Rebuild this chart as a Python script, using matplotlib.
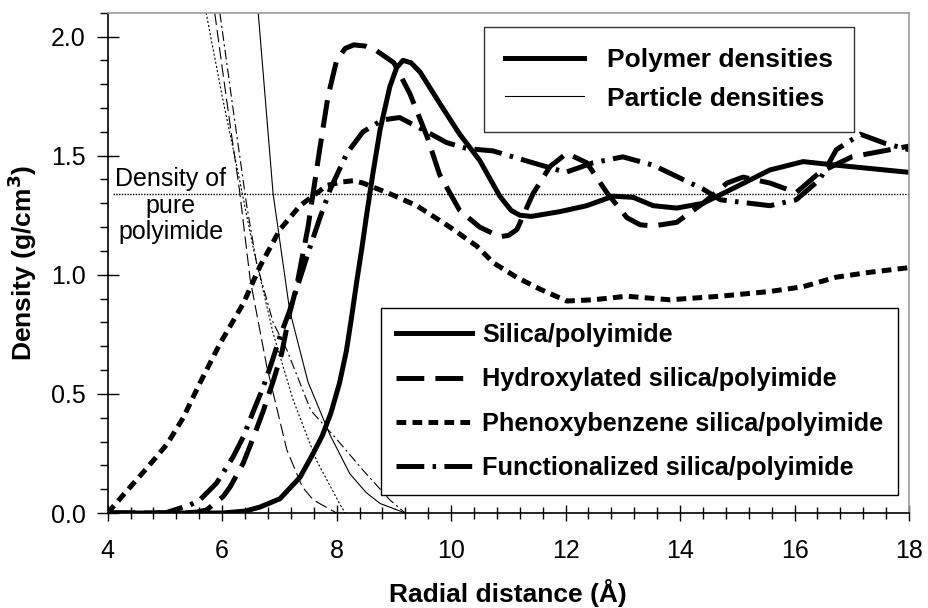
import numpy as np
import matplotlib
matplotlib.use('Agg')
import matplotlib.pyplot as plt
from matplotlib.ticker import MultipleLocator, FormatStrFormatter
from matplotlib.lines import Line2D

plt.rcParams['font.family'] = ['Liberation Sans', 'DejaVu Sans']
plt.rcParams['lines.scale_dashes'] = False

# polymer densities (thick lines)
silica_x = [4.0, 6.0, 6.4, 6.66, 7.01, 7.36, 7.59, 7.75, 7.9, 8.05, 8.17, 8.26, 8.35, 8.44, 8.52,
            8.63, 8.76, 8.93, 9.05, 9.16, 9.3, 9.46, 9.8, 10.15, 10.5, 10.85, 11.05, 11.2, 11.4,
            11.9, 12.37, 12.83, 13.18, 13.53, 13.94, 14.4, 14.99, 15.57, 16.15, 16.73, 18.0]
silica_y = [0.0, 0.0, 0.008, 0.025, 0.06, 0.15, 0.25, 0.325, 0.42, 0.545, 0.68, 0.82, 0.97, 1.11, 1.245,
            1.42, 1.61, 1.79, 1.87, 1.90, 1.89, 1.85, 1.72, 1.59, 1.48, 1.33, 1.27, 1.25, 1.245,
            1.265, 1.29, 1.33, 1.325, 1.29, 1.28, 1.30, 1.37, 1.44, 1.475, 1.46, 1.43]

hydrox_x = [4.0, 5.3, 5.56, 5.73, 6.02, 6.14, 6.37, 6.55, 6.72, 6.9, 7.04, 7.18, 7.3, 7.5, 7.7,
            7.85, 8.0, 8.15, 8.3, 8.5, 8.7, 9.0, 9.28, 9.58, 9.8, 10.15, 10.5, 10.85, 11.0,
            11.15, 11.43, 11.73, 12.02, 12.37, 12.72, 13.07, 13.3, 13.53, 13.94, 14.4, 14.82,
            15.1, 15.57, 16.03, 16.44, 17.0, 18.0]
hydrox_y = [0.0, 0.0, 0.004, 0.013, 0.07, 0.11, 0.21, 0.32, 0.43, 0.56, 0.67, 0.84, 0.95, 1.2, 1.52,
            1.75, 1.90, 1.95, 1.965, 1.96, 1.94, 1.89, 1.76, 1.58, 1.42, 1.27, 1.20, 1.16, 1.165,
            1.19, 1.34, 1.455, 1.51, 1.47, 1.345, 1.24, 1.21, 1.205, 1.22, 1.30, 1.385,
            1.41, 1.385, 1.345, 1.43, 1.495, 1.54]

phenoxy_x = [4.0, 4.27, 4.69, 5.04, 5.32, 5.61, 5.96, 6.37, 6.66, 7.01, 7.36, 7.83, 8.11, 8.3,
             8.46, 8.93, 9.4, 9.98, 10.45, 10.74, 11.14, 11.55, 12.02, 12.48, 13.07, 13.82,
             14.7, 15.57, 16.15, 16.73, 17.3, 18.0]
phenoxy_y = [0.0, 0.075, 0.19, 0.29, 0.40, 0.545, 0.71, 0.88, 1.035, 1.19, 1.29, 1.375, 1.39, 1.395,
             1.385, 1.34, 1.29, 1.20, 1.12, 1.05, 0.99, 0.94, 0.89, 0.895, 0.91, 0.895,
             0.91, 0.93, 0.95, 0.99, 1.01, 1.03]

funct_x = [4.0, 5.0, 5.44, 5.61, 5.9, 6.19, 6.37, 6.55, 6.72, 6.87, 7.01, 7.18, 7.54, 7.71, 7.89,
           8.18, 8.46, 8.8, 9.1, 9.5, 9.92, 10.27, 10.73, 11.43, 12.0, 12.48, 13.0, 13.53,
           14.4, 14.7, 15.57, 16.03, 16.44, 16.73, 17.15, 17.6, 18.0]
funct_y = [0.0, 0.0, 0.034, 0.055, 0.125, 0.235, 0.32, 0.43, 0.53, 0.635, 0.74, 0.85, 1.12, 1.24, 1.36,
           1.51, 1.60, 1.65, 1.66, 1.61, 1.555, 1.53, 1.52, 1.47, 1.43, 1.47, 1.495, 1.46,
           1.36, 1.315, 1.29, 1.315, 1.40, 1.525, 1.59, 1.55, 1.525]

# particle densities (thin lines)
p_silica_x = [6.63, 6.89, 7.18, 7.5, 7.88, 8.23, 8.52, 8.76, 9.2]
p_silica_y = [2.1, 1.34, 0.85, 0.55, 0.33, 0.165, 0.085, 0.04, 0.0]

p_hydrox_x = [5.87, 6.0, 6.15, 6.3, 6.49, 6.78, 7.13, 7.4, 7.59, 8.0]
p_hydrox_y = [2.1, 1.87, 1.61, 1.36, 0.98, 0.615, 0.265, 0.11, 0.055, 0.0]

p_phenoxy_x = [5.72, 6.0, 6.26, 6.55, 6.89, 7.24, 7.65, 8.05, 8.15]
p_phenoxy_y = [2.1, 1.75, 1.45, 1.105, 0.755, 0.475, 0.22, 0.04, 0.0]

p_funct_x = [5.96, 6.2, 6.43, 6.6, 6.89, 7.13, 7.55, 8.0, 8.46, 8.93, 9.2]
p_funct_y = [2.1, 1.68, 1.29, 1.05, 0.80, 0.685, 0.43, 0.31, 0.18, 0.055, 0.0]

pure_polyimide = 1.34

labels = ['Silica/polyimide', 'Hydroxylated silica/polyimide',
          'Phenoxybenzene silica/polyimide', 'Functionalized silica/polyimide']

thick, thin = 3.6, 0.8
thick_styles = ['-', (0, (20, 8)), (0, (7, 4.5)), (0, (20, 6, 2.5, 6))]
thin_styles = ['-', (0, (9, 3.5)), (0, (1.5, 1.5)), (0, (7, 2.5, 1.5, 2.5))]

fig = plt.figure(figsize=(9.29, 6.08), dpi=100)
ax = fig.add_axes([0.1159, 0.1562, 0.8626, 0.8229])

polymer = [(silica_x, silica_y), (hydrox_x, hydrox_y), (phenoxy_x, phenoxy_y), (funct_x, funct_y)]
particle = [(p_silica_x, p_silica_y), (p_hydrox_x, p_hydrox_y), (p_phenoxy_x, p_phenoxy_y),
            (p_funct_x, p_funct_y)]

for (xs, ys), ls in zip(particle, thin_styles):
    ax.plot(xs, ys, color='black', lw=thin, linestyle=ls, dash_capstyle='butt')
for (xs, ys), ls in zip(polymer, thick_styles):
    ax.plot(xs, ys, color='black', lw=thick, linestyle=ls, dash_capstyle='butt',
            solid_joinstyle='round')

ax.hlines(pure_polyimide, 4.1, 18, colors='black', linestyles=(0, (1, 1)), lw=1.0)
ax.text(5.1, 1.29, 'Density of\npure\npolyimide', ha='center', va='center',
        fontsize=18, linespacing=1.12)

ax.set_xlim(4, 18)
ax.set_ylim(0, 2.1)
ax.xaxis.set_major_locator(MultipleLocator(2))
ax.xaxis.set_minor_locator(MultipleLocator(0.4))
ax.yaxis.set_major_locator(MultipleLocator(0.5))
ax.yaxis.set_minor_locator(MultipleLocator(0.1))
ax.yaxis.set_major_formatter(FormatStrFormatter('%.1f'))
ax.tick_params(axis='x', which='major', direction='inout', length=12, width=1, labelsize=18, pad=13)
ax.tick_params(axis='x', which='minor', direction='inout', length=8, width=1)
ax.tick_params(axis='y', which='major', direction='inout', length=16, width=1, labelsize=18, pad=8)
ax.tick_params(axis='y', which='minor', direction='out', length=6, width=1)

for side in ['top', 'right']:
    ax.spines[side].set_color('#999999')
    ax.spines[side].set_linewidth(1.2)
for side in ['left', 'bottom']:
    ax.spines[side].set_linewidth(1.2)

ax.set_xlabel('Radial distance (Å)', fontsize=19, fontweight='bold', labelpad=11)
ax.set_ylabel('Density (g/cm$^\\mathbf{3}$)', fontsize=19, fontweight='bold', labelpad=8)

h1 = [Line2D([], [], color='black', lw=thick), Line2D([], [], color='black', lw=thin)]
leg1 = ax.legend(h1, ['Polymer densities', 'Particle densities'], loc='upper left',
                 bbox_to_anchor=(484 / 929, 1 - 27 / 608), bbox_transform=fig.transFigure,
                 borderaxespad=0, fancybox=False, edgecolor='#333333', framealpha=1,
                 prop={'weight': 'bold', 'size': 19}, handlelength=3.0, handletextpad=0.85,
                 borderpad=0.8, labelspacing=0.55)
leg1.get_frame().set_linewidth(1.0)
ax.add_artist(leg1)

h2 = [Line2D([], [], color='black', lw=thick, linestyle=ls, dash_capstyle='butt')
      for ls in thick_styles]
leg2 = ax.legend(h2, labels, loc='upper left',
                 bbox_to_anchor=(381 / 929, 1 - 308 / 608), bbox_transform=fig.transFigure,
                 borderaxespad=0, fancybox=False, edgecolor='black', framealpha=1,
                 prop={'weight': 'bold', 'size': 18.2}, handlelength=3.0, handletextpad=0.4,
                 borderpad=0.6, labelspacing=0.8)
leg2.get_frame().set_linewidth(1.0)

fig.savefig('out.png', dpi=100)
